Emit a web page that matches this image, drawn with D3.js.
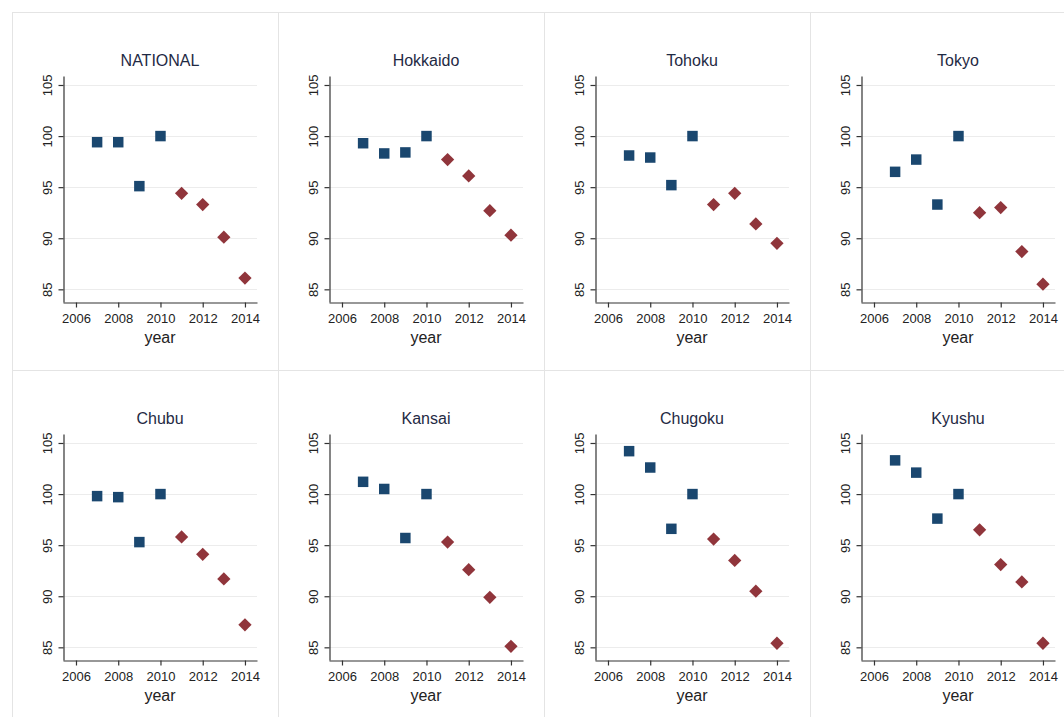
<!DOCTYPE html>
<html>
<head>
<meta charset="utf-8">
<script src="https://cdn.jsdelivr.net/npm/d3@7"></script>
<style>
	body { margin: 0; background: #fff; }
	svg text { font-family: "Liberation Sans", Arial, sans-serif; }
	.cell { fill: #fff; stroke: #e4e4e4; stroke-width: 1; }
	.grid line { stroke: #ececec; stroke-width: 1; }
	.axis path, .axis line { stroke: #333; stroke-width: 1.2; }
	.axis text { fill: #222; font-size: 13px; }
	.title { fill: #1f2a44; font-size: 16px; }
	.xlabel { fill: #222; font-size: 16px; }
</style>
</head>
<body>
<script>
/* Data */

var years = [2007, 2008, 2009, 2010, 2011, 2012, 2013, 2014];
var LAST_BLUE_YEAR = 2010;

var regions = ["NATIONAL", "Hokkaido", "Tohoku", "Tokyo", "Chubu", "Kansai", "Chugoku", "Kyushu"];

var national = [99.4, 99.4, 95.1, 100, 94.4, 93.3, 90.1, 86.1],
	hokkaido = [99.3, 98.3, 98.4, 100, 97.7, 96.1, 92.7, 90.3],
	tohoku   = [98.1, 97.9, 95.2, 100, 93.3, 94.4, 91.4, 89.5],
	tokyo    = [96.5, 97.7, 93.3, 100, 92.5, 93.0, 88.7, 85.5],
	chubu    = [99.8, 99.7, 95.3, 100, 95.8, 94.1, 91.7, 87.2],
	kansai   = [101.2, 100.5, 95.7, 100, 95.3, 92.6, 89.9, 85.1],
	chugoku  = [104.2, 102.6, 96.6, 100, 95.6, 93.5, 90.5, 85.4],
	kyushu   = [103.3, 102.1, 97.6, 100, 96.5, 93.1, 91.4, 85.4];

var seriesList = [national, hokkaido, tohoku, tokyo, chubu, kansai, chugoku, kyushu];

var xTicks = [2006, 2008, 2010, 2012, 2014],
	yTicks = [85, 90, 95, 100, 105];

/* Measures */

var W = 1064,
	H = 717;

var ORIGIN   = 12,
	CELL_W   = 266,
	CELL_H   = 358,
	COLS     = 4;

var PLOT = { left: 51, right: 245, top: 64, bottom: 290 };

var TITLE_Y      = 54,
	XLABEL_Y     = 331,
	TICK_SIZE    = 5,
	SQUARE_AREA  = 110,
	DIAMOND_AREA = 88;

var BLUE = "#1a476f",
	RED  = "#90353b";

var svg = d3.select("body").append("svg")
	.attr("width", W)
	.attr("height", H);

var x = d3.scaleLinear().domain([2005.385, 2014.57]).range([PLOT.left, PLOT.right]);
var y = d3.scaleLinear().domain([83.76, 105.88]).range([PLOT.bottom, PLOT.top]);

var square  = d3.symbol().type(d3.symbolSquare).size(SQUARE_AREA),
	diamond = d3.symbol().type(d3.symbolSquare).size(DIAMOND_AREA);

function drawPanel(name, values, i) {
	var col = i % COLS,
		row = Math.floor(i / COLS);

	var g = svg.append("g")
		.attr("transform", "translate(" + (ORIGIN + col * CELL_W) + "," + (ORIGIN + row * CELL_H) + ")");

	g.append("rect")
		.classed("cell", true)
		.attr("x", 0.5)
		.attr("y", 0.5)
		.attr("width", CELL_W)
		.attr("height", CELL_H);

	g.append("g")
		.classed("grid", true)
		.selectAll("line")
		.data(yTicks)
		.enter().append("line")
		.attr("x1", PLOT.left)
		.attr("x2", PLOT.right)
		.attr("y1", function(d) { return Math.round(y(d)) + 0.5; })
		.attr("y2", function(d) { return Math.round(y(d)) + 0.5; });

	var yAxis = g.append("g")
		.classed("axis", true)
		.attr("transform", "translate(" + (PLOT.left + 0.5) + ",0)")
		.call(d3.axisLeft(y).tickValues(yTicks).tickSize(TICK_SIZE).tickSizeOuter(0));

	yAxis.selectAll("text")
		.attr("text-anchor", "middle")
		.attr("dy", null)
		.attr("x", null)
		.attr("transform", "translate(-12,0) rotate(-90)");

	g.append("g")
		.classed("axis", true)
		.attr("transform", "translate(0," + (PLOT.bottom + 0.5) + ")")
		.call(d3.axisBottom(x).tickValues(xTicks).tickFormat(d3.format("d")).tickSize(TICK_SIZE).tickSizeOuter(0))
		.selectAll("text")
		.attr("y", 11);

	g.append("text")
		.classed("title", true)
		.attr("x", (PLOT.left + PLOT.right) / 2)
		.attr("y", TITLE_Y)
		.attr("text-anchor", "middle")
		.text(name);

	g.append("text")
		.classed("xlabel", true)
		.attr("x", (PLOT.left + PLOT.right) / 2)
		.attr("y", XLABEL_Y)
		.attr("text-anchor", "middle")
		.text("year");

	var points = years.map(function(yr, k) { return { year: yr, value: values[k] }; });

	g.selectAll("path.marker")
		.data(points)
		.enter().append("path")
		.classed("marker", true)
		.attr("d", function(d) { return d.year <= LAST_BLUE_YEAR ? square() : diamond(); })
		.attr("fill", function(d) { return d.year <= LAST_BLUE_YEAR ? BLUE : RED; })
		.attr("transform", function(d) {
			var t = "translate(" + x(d.year) + "," + y(d.value) + ")";
			return d.year <= LAST_BLUE_YEAR ? t : t + " rotate(45)";
		});
}

regions.forEach(function(name, i) {
	drawPanel(name, seriesList[i], i);
});
</script>
</body>
</html>
